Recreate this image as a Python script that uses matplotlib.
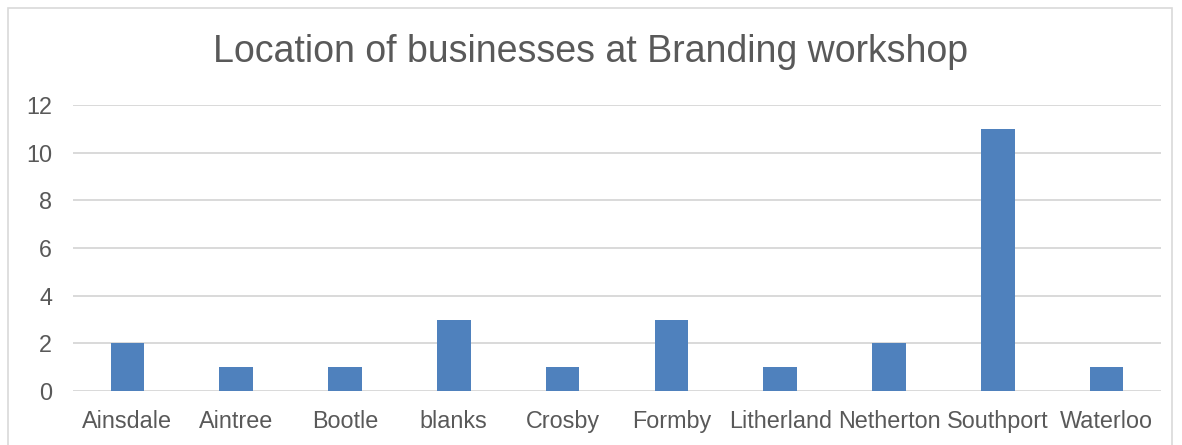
import matplotlib
matplotlib.use("Agg")
import matplotlib.pyplot as plt
from matplotlib.patches import Rectangle

categories = ["Ainsdale", "Aintree", "Bootle", "blanks", "Crosby", "Formby",
              "Litherland", "Netherton", "Southport", "Waterloo"]
counts = [2, 1, 1, 3, 1, 3, 1, 2, 11, 1]
yticks = [0, 2, 4, 6, 8, 10, 12]
title = "Location of businesses at Branding workshop"

plt.rcParams['font.family'] = ['Liberation Sans', 'DejaVu Sans']
W, H = 1182, 445
fig = plt.figure(figsize=(W / 100, H / 100), dpi=100)
fig.patch.set_facecolor("white")

# outer chart border
fig.add_artist(Rectangle((8 / W, -0.05), (1172 - 8) / W, 1 - 8 / H + 0.05,
                         transform=fig.transFigure, fill=False,
                         edgecolor="#D9D9D9", linewidth=1.2))

ax = fig.add_axes([73 / W, 1 - 391 / H, (1161 - 73) / W, (391 - 105) / H])
x = list(range(len(categories)))
ax.bar(x, counts, width=0.31, color="#4F81BD", zorder=3)
ax.set_xlim(-0.5, len(categories) - 0.5)
ax.set_ylim(0, 12)
ax.set_yticks(yticks)
ax.set_xticks(x)
ax.set_xticklabels(categories)
for s in ax.spines.values():
    s.set_visible(False)
ax.grid(axis="y", color="#D9D9D9", linewidth=1.4, zorder=0)
ax.tick_params(axis="both", length=0, labelsize=16.8, colors="#595959")
ax.tick_params(axis="y", pad=15)
ax.tick_params(axis="x", pad=14)
fig.text(0.5, 1 - 52 / H, title, ha="center", va="center",
         fontsize=27, color="#595959")

fig.savefig("out.png", dpi=100)
